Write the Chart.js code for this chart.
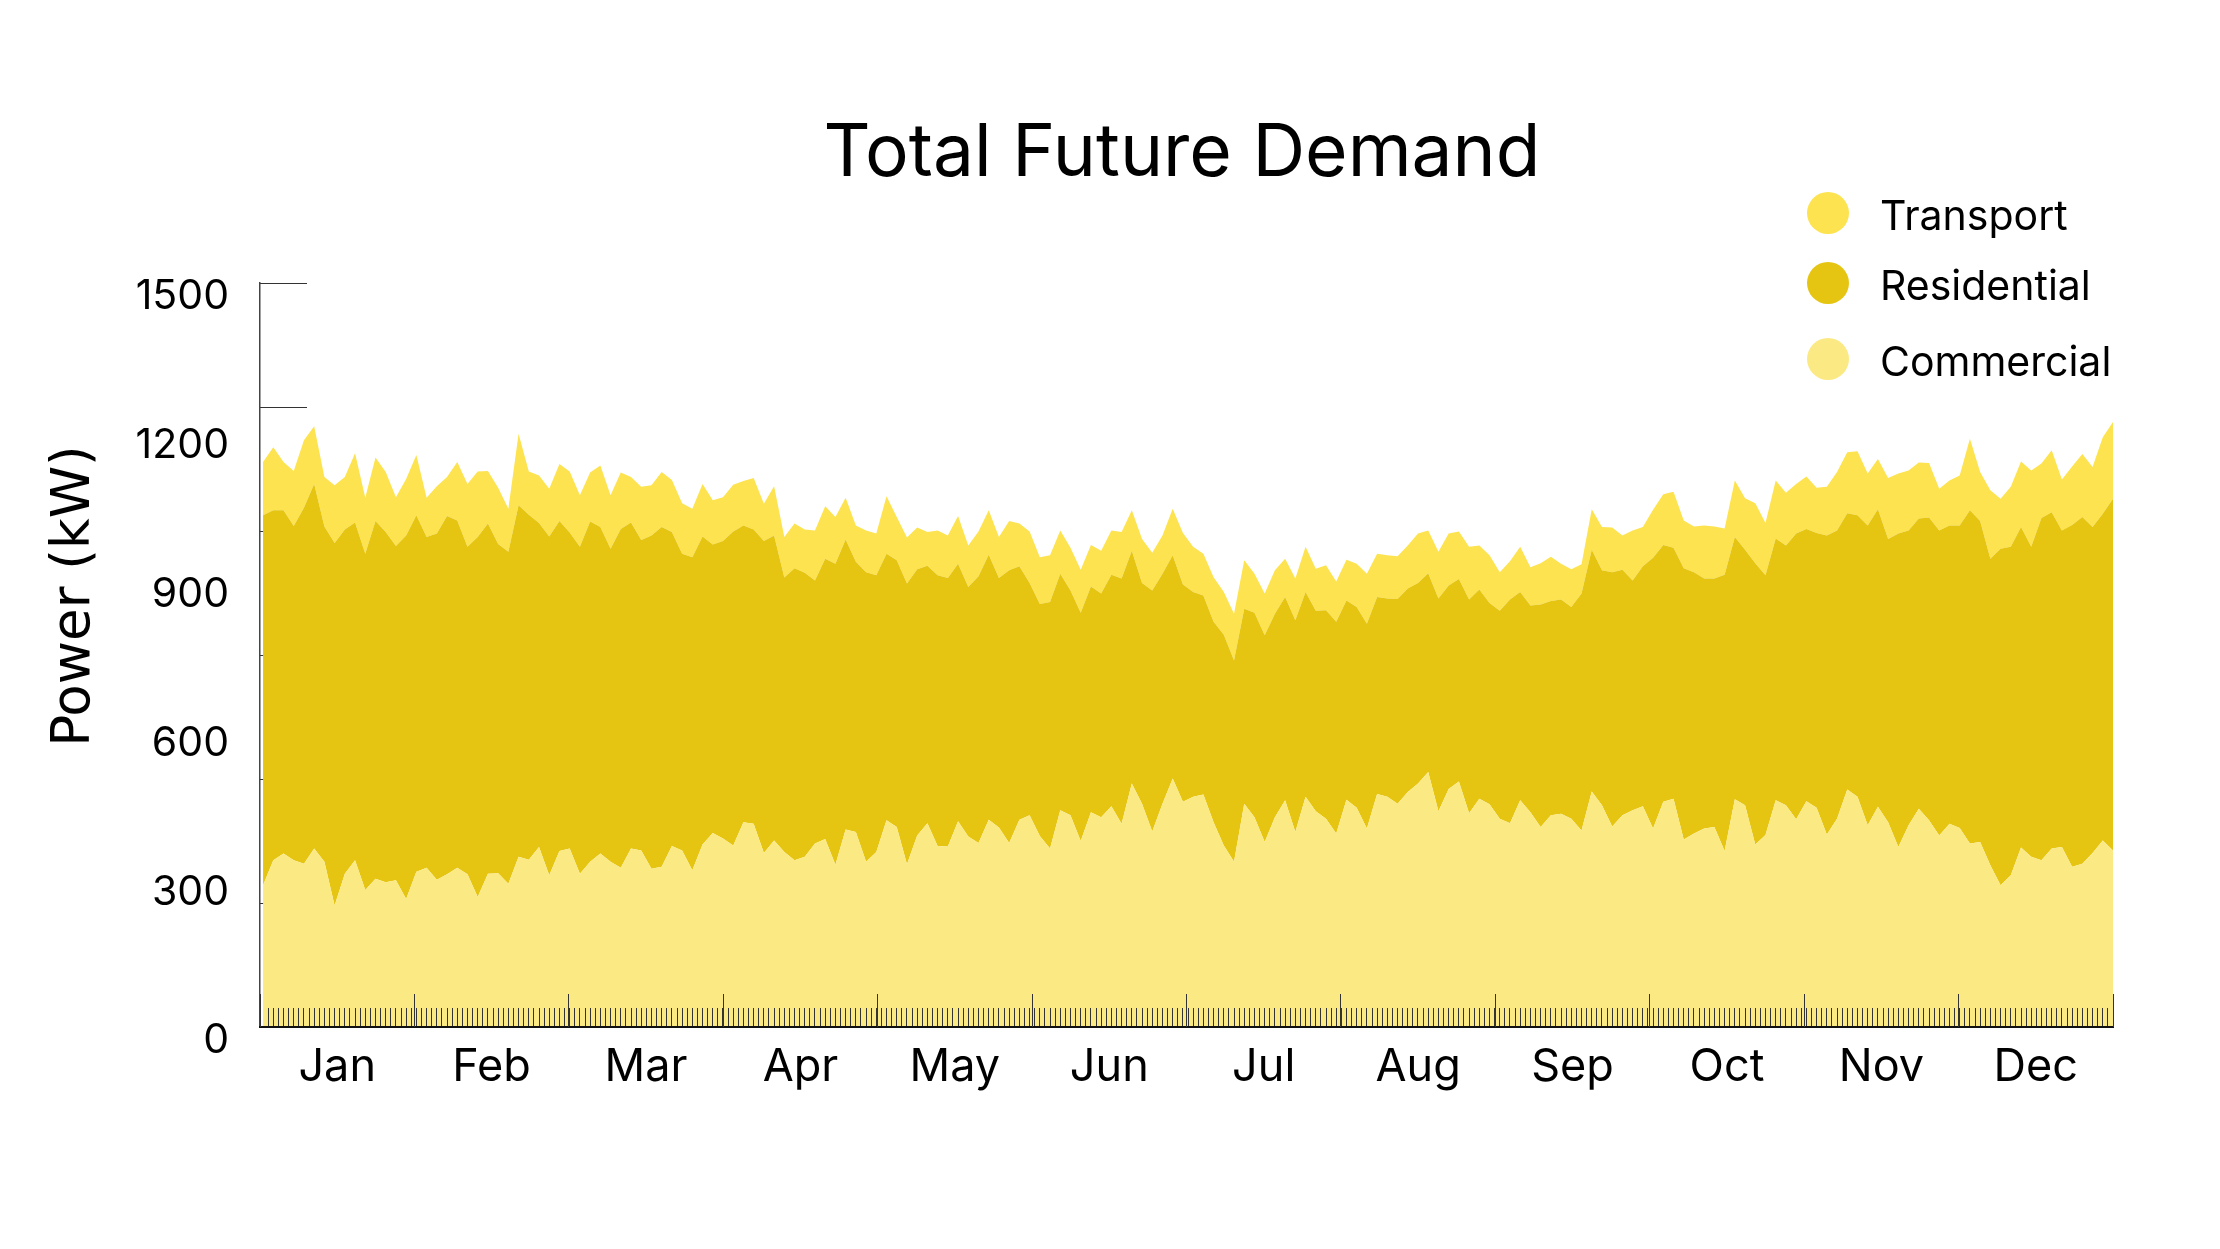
<!DOCTYPE html>
<html>
<head>
<meta charset="utf-8">
<title>Total Future Demand</title>
<script src="https://cdn.jsdelivr.net/npm/chart.js@4.4.1/dist/chart.umd.min.js"></script>
<style>
  html, body { margin: 0; padding: 0; background: #fff; }
  #wrap { width: 2220px; height: 1249px; }
</style>
</head>
<body>
<div id="wrap"><canvas id="demandChart" width="2220" height="1249"></canvas></div>
<script>
// month bands on the x axis
const months = ["Jan", "Feb", "Mar", "Apr", "May", "Jun", "Jul", "Aug", "Sep", "Oct", "Nov", "Dec"];

// y axis labels
const yTicks = [0, 300, 600, 900, 1200, 1500];

// day of year for each sample (every second day)
const days = [
  0, 2, 4, 6, 8, 10, 12, 14, 16, 18, 20, 22, 24, 26, 28, 30, 32, 34, 36, 38,
  40, 42, 44, 46, 48, 50, 52, 54, 56, 58, 60, 62, 64, 66, 68, 70, 72, 74, 76, 78,
  80, 82, 84, 86, 88, 90, 92, 94, 96, 98, 100, 102, 104, 106, 108, 110, 112, 114, 116, 118,
  120, 122, 124, 126, 128, 130, 132, 134, 136, 138, 140, 142, 144, 146, 148, 150, 152, 154, 156, 158,
  160, 162, 164, 166, 168, 170, 172, 174, 176, 178, 180, 182, 184, 186, 188, 190, 192, 194, 196, 198,
  200, 202, 204, 206, 208, 210, 212, 214, 216, 218, 220, 222, 224, 226, 228, 230, 232, 234, 236, 238,
  240, 242, 244, 246, 248, 250, 252, 254, 256, 258, 260, 262, 264, 266, 268, 270, 272, 274, 276, 278,
  280, 282, 284, 286, 288, 290, 292, 294, 296, 298, 300, 302, 304, 306, 308, 310, 312, 314, 316, 318,
  320, 322, 324, 326, 328, 330, 332, 334, 336, 338, 340, 342, 344, 346, 348, 350, 352, 354, 356, 358,
  360, 362
];

// kW, bottom of the stack
const commercial = [
  286, 336, 350, 336, 329, 360, 333, 245, 309, 336, 276, 299, 292, 296, 258, 313, 321, 297, 308, 321,
  308, 262, 309, 310, 289, 343, 337, 363, 306, 355, 360, 309, 333, 350, 333, 321, 360, 356, 319, 323,
  365, 356, 316, 368, 391, 380, 366, 413, 410, 351, 376, 353, 336, 343, 370, 379, 327, 398, 393, 333,
  353, 417, 403, 328, 386, 411, 365, 364, 415, 384, 371, 418, 402, 371, 418, 427, 385, 360, 437, 427,
  375, 433, 423, 445, 410, 491, 450, 394, 450, 501, 454, 464, 469, 413, 366, 333, 450, 423, 373, 423,
  457, 393, 464, 435, 420, 390, 458, 442, 400, 470, 464, 450, 474, 491, 514, 435, 480, 495, 431, 460,
  449, 420, 411, 457, 433, 403, 427, 430, 420, 396, 475, 447, 404, 427, 437, 445, 400, 454, 460, 378,
  390, 400, 403, 355, 459, 447, 368, 387, 457, 447, 419, 455, 442, 388, 420, 479, 464, 407, 444, 413,
  363, 407, 440, 417, 386, 410, 401, 370, 373, 326, 286, 306, 362, 343, 336, 360, 363, 323, 329, 351,
  376, 356
];

// kW, middle of the stack
const residential = [
  746, 706, 692, 674, 718, 735, 676, 731, 694, 681, 678, 721, 706, 674, 733, 719, 667, 698, 722, 700,
  660, 726, 706, 664, 669, 709, 696, 653, 683, 665, 637, 659, 686, 658, 631, 683, 657, 626, 672, 685,
  633, 598, 631, 621, 582, 600, 633, 598, 593, 629, 615, 553, 589, 573, 530, 565, 607, 585, 545, 584,
  558, 537, 538, 566, 537, 519, 546, 541, 519, 503, 538, 534, 503, 550, 511, 468, 468, 497, 477, 453,
  460, 455, 451, 467, 494, 469, 445, 486, 464, 450, 438, 413, 401, 404, 425, 406, 393, 412, 417, 410,
  410, 427, 413, 404, 420, 427, 402, 405, 413, 397, 400, 413, 410, 404, 401, 429, 410, 408, 431, 422,
  406, 419, 451, 420, 417, 449, 432, 432, 427, 478, 487, 474, 513, 495, 463, 484, 546, 518, 506, 547,
  527, 504, 501, 557, 529, 515, 567, 524, 528, 524, 576, 549, 554, 603, 581, 557, 568, 604, 600, 571,
  632, 594, 585, 610, 615, 601, 610, 672, 647, 618, 678, 662, 646, 625, 690, 678, 638, 689, 699, 657,
  659, 709
];

// kW, top of the stack
const transport = [
  107, 127, 97, 111, 136, 116, 100, 116, 106, 140, 113, 128, 121, 98, 114, 121, 79, 95, 79, 118,
  127, 132, 106, 113, 87, 144, 87, 96, 96, 115, 123, 104, 99, 124, 108, 114, 92, 107, 101, 111,
  105, 102, 98, 106, 89, 88, 94, 90, 104, 75, 99, 82, 90, 87, 101, 106, 94, 84, 73, 84,
  84, 116, 87, 93, 84, 68, 90, 86, 96, 84, 90, 90, 83, 99, 86, 104, 94, 94, 87, 86,
  87, 84, 86, 89, 94, 82, 89, 76, 77, 94, 104, 91, 84, 90, 86, 94, 98, 79, 84, 88,
  77, 84, 91, 85, 91, 81, 82, 87, 101, 87, 87, 86, 87, 100, 86, 94, 105, 96, 106, 89,
  96, 78, 77, 91, 77, 83, 89, 72, 76, 59, 82, 87, 90, 69, 101, 79, 97, 102, 113, 96,
  92, 107, 105, 93, 114, 104, 121, 105, 117, 106, 100, 106, 91, 98, 118, 123, 129, 105, 101, 123,
  121, 121, 113, 110, 84, 91, 101, 144, 99, 138, 101, 121, 132, 154, 110, 125, 103, 118, 127, 121,
  154, 155
];

const seriesStyle = {
  borderWidth: 0,
  pointRadius: 0,
  pointHoverRadius: 0,
  tension: 0,
};

// title, y title and the round legend markers
const chartText = {
  id: "chartText",
  afterDraw(chart) {
    const ctx = chart.ctx;
    ctx.save();
    ctx.fillStyle = "#000";
    ctx.textAlign = "center";
    ctx.textBaseline = "alphabetic";
    ctx.font = "400 73px Inter";
    ctx.fillText("Total Future Demand", 1182, 176);

    const rows = [213, 283, 359];
    [2, 1, 0].forEach((di, k) => {
      const ds = chart.data.datasets[di];
      ctx.beginPath();
      ctx.arc(1828, rows[k], 21, 0, Math.PI * 2);
      ctx.fillStyle = ds.backgroundColor;
      ctx.fill();
      ctx.fillStyle = "#000";
      ctx.textAlign = "left";
      ctx.font = "400 41px Inter";
      ctx.fillText(ds.label, 1880, rows[k] + 17);
    });

    ctx.translate(75, 596);
    ctx.rotate(-Math.PI / 2);
    ctx.textAlign = "center";
    ctx.textBaseline = "middle";
    ctx.font = "53px 'DejaVu Sans'";
    ctx.fillText("Power (kW)", 0, 0);
    ctx.restore();
  },
};

Chart.defaults.font.family = "Inter";

new Chart(document.getElementById("demandChart"), {
  type: "line",
  data: {
    labels: days,
    datasets: [
      { label: "Commercial", data: commercial, backgroundColor: "#fbe983", fill: "origin", ...seriesStyle },
      { label: "Residential", data: residential, backgroundColor: "#e5c511", fill: "-1", ...seriesStyle },
      { label: "Transport", data: transport, backgroundColor: "#fce34f", fill: "-1", ...seriesStyle },
    ],
  },
  plugins: [chartText],
  options: {
    responsive: false,
    devicePixelRatio: 1,
    animation: false,
    layout: { padding: { top: 283, right: 107, left: 0, bottom: 0 } },
    plugins: {
      legend: { display: false },
      tooltip: { enabled: false },
    },
    scales: {
      x: {
        type: "linear",
        min: -0.6,
        max: 362,
        weight: 0,
        afterFit: (s) => { s.height = 0; },
        ticks: { display: false, stepSize: 1 },
        grid: { drawOnChartArea: false, tickLength: -19, color: "#333", lineWidth: 1, z: 1 },
        border: { display: true, color: "#111", width: 2, z: 1 },
      },
      x2: {
        type: "category",
        labels: months,
        position: "bottom",
        offset: true,
        weight: 1,
        afterFit: (s) => { s.height = 222; },
        grid: { offset: true, drawOnChartArea: false, tickLength: -33, color: "#333", z: 1 },
        border: { display: false },
        ticks: { color: "#000", font: { size: 45 }, padding: 46, autoSkip: false, maxRotation: 0 },
      },
      y: {
        stacked: true,
        min: 0,
        max: 1500,
        weight: 0,
        afterFit: (s) => { s.width = 0; },
        ticks: { display: false, stepSize: 250 },
        grid: { drawOnChartArea: false, tickLength: -47, color: "#333" },
        border: { display: true, color: "#444", width: 1.5 },
      },
      y2: {
        position: "left",
        min: 0,
        max: 1500,
        weight: 1,
        afterFit: (s) => { s.width = 260; },
        afterBuildTicks: (s) => { s.ticks = yTicks.map((v) => ({ value: v })); },
        ticks: {
          color: "#000",
          font: { size: 41 },
          padding: 31,
          labelOffset: 14,
          callback: (v) => String(v),
        },
        grid: { display: false, drawTicks: false },
        border: { display: false },
      },
    },
  },
});
</script>
</body>
</html>
